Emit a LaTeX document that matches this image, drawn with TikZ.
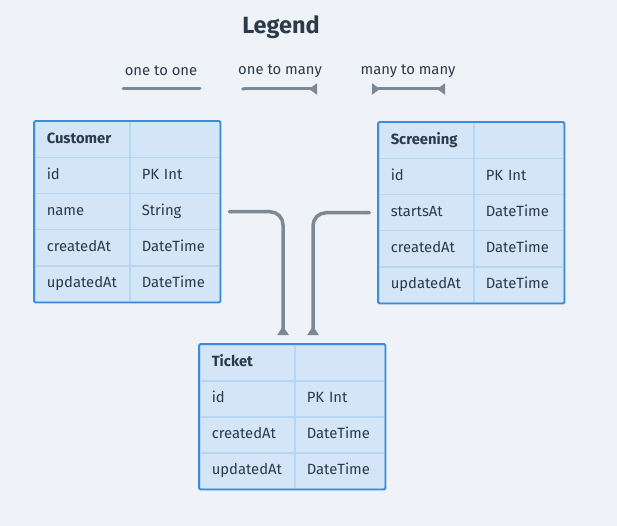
\documentclass[tikz,border=0pt]{standalone}
\usepackage{fontspec}
\setmainfont{Fira Sans}
\usetikzlibrary{arrows.meta,calc}
\definecolor{bgc}{HTML}{EFF3F7}
\definecolor{cellfill}{HTML}{D3E5F7}
\definecolor{cellline}{HTML}{B7D6F4}
\definecolor{tabborder}{HTML}{3A8DDE}
\definecolor{txt}{HTML}{2C3A4A}
\definecolor{conncol}{HTML}{7B8896}
\tikzset{
  cellA/.style={draw=cellline, line width=1.5pt, fill=cellfill, anchor=north west,
    minimum width=95pt, minimum height=36pt, text width=71pt, inner xsep=12pt,
    align=left, font=\fontsize{14.8}{16}\selectfont, text=txt, text height=10.5pt, text depth=3pt},
  cellB/.style={cellA, minimum width=90pt, text width=66pt},
  outer/.style={draw=tabborder, line width=1.8pt, rounded corners=1.5pt},
  conn/.style={draw=conncol, line width=3.5pt, rounded corners=13pt},
  legtxt/.style={font=\fontsize{14.8}{16}\selectfont, text=txt},
}
\newcommand\erow[6]{%
  \node[cellA] (#1a#2) at (#3,#4) {#5};
  \node[cellB] (#1b#2) at (#3+95,#4) {#6};
}
\begin{document}
\begin{tikzpicture}[x=1pt,y=-1pt]
\fill[bgc] (0,0) rectangle (617,526);
\useasboundingbox (0,0) rectangle (617,526);

% Legend
\node[font=\fontsize{23.5}{26}\selectfont\bfseries, text=txt] (legend) at (281,27) {Legend};
\node[legtxt] (l1) at (161,71) {one to one};
\node[legtxt] (l2) at (280,71) {one to many};
\node[legtxt] (l3) at (408,71) {many to many};
\coordinate (l1a) at (123,89); \coordinate (l1b) at (200,89);
\coordinate (l2a) at (241,89); \coordinate (l2b) at (317,89);
\coordinate (l3a) at (372,89); \coordinate (l3b) at (445,89);
\draw[conn, line width=3pt, line cap=round] (l1a) -- (l1b);
\draw[conn, line width=3pt, {Round Cap[]}-{Triangle[reversed,width=11pt,length=8pt]}] (l2a) -- (l2b);
\draw[conn, line width=3pt, {Triangle[reversed,width=11pt,length=8pt]}-{Triangle[reversed,width=11pt,length=8pt]}] (l3a) -- (l3b);

% Customer
\erow{cu}{0}{34}{121}{\textbf{Customer}}{}
\erow{cu}{1}{34}{157}{id}{PK Int}
\erow{cu}{2}{34}{193}{name}{String}
\erow{cu}{3}{34}{229}{createdAt}{DateTime}
\erow{cu}{4}{34}{265}{updatedAt}{DateTime}
\draw[outer] (cua0.north west) rectangle (cub4.south east);

% Screening
\erow{sc}{0}{378}{122}{\textbf{Screening}}{}
\erow{sc}{1}{378}{158}{id}{PK Int}
\erow{sc}{2}{378}{194}{startsAt}{DateTime}
\erow{sc}{3}{378}{230}{createdAt}{DateTime}
\erow{sc}{4}{378}{266}{updatedAt}{DateTime}
\draw[outer] (sca0.north west) rectangle (scb4.south east);

% Ticket
\erow{ti}{0}{199}{344}{\textbf{Ticket}}{}
\erow{ti}{1}{199}{380}{id}{PK Int}
\erow{ti}{2}{199}{416}{createdAt}{DateTime}
\erow{ti}{3}{199}{452}{updatedAt}{DateTime}
\draw[outer] (tia0.north west) rectangle (tib3.south east);

% connectors
\coordinate (c1s) at ($(cub2.east)+(7,0)$);
\coordinate (c1e) at ($(tia0.north west)+(84,-9)$);
\coordinate (c2s) at ($(sca2.west)+(-7,0)$);
\coordinate (c2e) at ($(tia0.north west)+(114,-9)$);
\draw[conn, {Round Cap[]}-{Triangle[reversed,width=11pt,length=9pt]}] (c1s) -| (c1e);
\draw[conn, {Round Cap[]}-{Triangle[reversed,width=11pt,length=9pt]}] (c2s) -| (c2e);
\end{tikzpicture}
\end{document}
